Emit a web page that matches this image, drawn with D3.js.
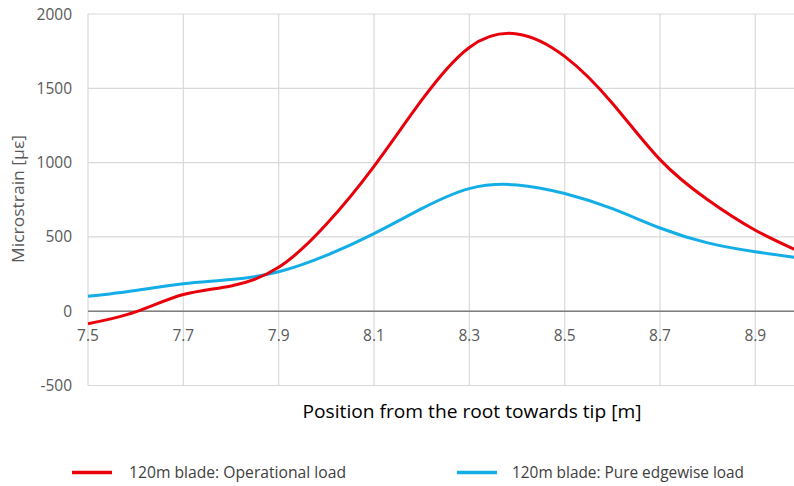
<!DOCTYPE html>
<html>
<head>
<meta charset="utf-8">
<script src="https://cdn.jsdelivr.net/npm/d3@7"></script>
<style>
  body { margin: 0; background: #fff; }
  text { font-family: "Open Sans", "Liberation Sans", sans-serif; }
</style>
</head>
<body>
<svg></svg>
<script>
// data
var positions = [7.5, 7.6, 7.7, 7.8, 7.9, 8.0, 8.1, 8.2, 8.3, 8.4, 8.5, 8.6, 8.7, 8.8, 8.9, 9.0];
var operational = [-85, -5, 112, 170, 295, 585, 975, 1420, 1775, 1866, 1715, 1400, 1020, 750, 545, 390];
var edgewise = [100, 140, 185, 213, 265, 375, 522, 690, 825, 850, 792, 690, 560, 460, 400, 355];
var xTicks = [7.5, 7.7, 7.9, 8.1, 8.3, 8.5, 8.7, 8.9];
var yTicks = [-500, 0, 500, 1000, 1500, 2000];
var seriesNames = ["120m blade: Operational load", "120m blade: Pure edgewise load"];

var width = 794, height = 486;

var svg = d3.select("svg")
    .attr("width", width)
    .attr("height", height);

var x = d3.scaleLinear().domain([7.5, 9.0]).range([88, 803]);
var y = d3.scaleLinear().domain([-500, 2000]).range([385.5, 14]);

// gridlines
svg.append("g").selectAll("line")
    .data(yTicks)
    .enter().append("line")
    .attr("x1", x(7.5)).attr("x2", x(9.0))
    .attr("y1", function(d) { return y(d); })
    .attr("y2", function(d) { return y(d); })
    .attr("stroke", "#d9d9d9")
    .attr("stroke-width", 1.2);

svg.append("g").selectAll("line")
    .data(xTicks)
    .enter().append("line")
    .attr("x1", function(d) { return x(d); })
    .attr("x2", function(d) { return x(d); })
    .attr("y1", y(2000)).attr("y2", y(-500))
    .attr("stroke", "#d9d9d9")
    .attr("stroke-width", 1.2);

// zero axis line
svg.append("line")
    .attr("x1", x(7.5)).attr("x2", x(9.0))
    .attr("y1", y(0)).attr("y2", y(0))
    .attr("stroke", "#808080")
    .attr("stroke-width", 1.4);

// y tick labels
svg.append("g").selectAll("text")
    .data(yTicks)
    .enter().append("text")
    .attr("x", 72)
    .attr("y", function(d) { return y(d); })
    .attr("dy", "0.36em")
    .attr("text-anchor", "end")
    .attr("font-size", 15.5)
    .attr("fill", "#595959")
    .text(function(d) { return d; });

// x tick labels (below zero line)
svg.append("g").selectAll("text")
    .data(xTicks)
    .enter().append("text")
    .attr("x", function(d) { return x(d); })
    .attr("y", y(0) + 24)
    .attr("dy", "0.36em")
    .attr("text-anchor", "middle")
    .attr("font-size", 15.5)
    .attr("fill", "#595959")
    .text(function(d) { return d3.format(".1f")(d); });

// axis titles
svg.append("text")
    .attr("x", 472)
    .attr("y", 418)
    .attr("text-anchor", "middle")
    .attr("font-size", 18)
    .attr("fill", "#000")
    .attr("textLength", 339)
    .attr("lengthAdjust", "spacingAndGlyphs")
    .text("Position from the root towards tip [m]");

svg.append("text")
    .attr("transform", "translate(24,199) rotate(-90)")
    .attr("text-anchor", "middle")
    .attr("font-size", 16.5)
    .attr("fill", "#595959")
    .attr("textLength", 128)
    .attr("lengthAdjust", "spacingAndGlyphs")
    .text("Microstrain [\u03bc\u03b5]");

// lines
var line = d3.line()
    .x(function(d) { return x(d[0]); })
    .y(function(d) { return y(d[1]); })
    .curve(d3.curveNatural);

var colors = ["#e8000b", "#13aee6"];
var series = [operational, edgewise];

// blue drawn first, red on top
[1, 0].forEach(function(i) {
    svg.append("path")
        .datum(positions.map(function(p, j) { return [p, series[i][j]]; }))
        .attr("fill", "none")
        .attr("stroke", colors[i])
        .attr("stroke-width", 3)
        .attr("d", line);
});

// legend
var legend = [
    { x1: 72, x2: 112, tx: 129, w: 217 },
    { x1: 457, x2: 497, tx: 512, w: 232 }
];
legend.forEach(function(l, i) {
    svg.append("line")
        .attr("x1", l.x1).attr("x2", l.x2)
        .attr("y1", 472.5).attr("y2", 472.5)
        .attr("stroke", colors[i])
        .attr("stroke-width", 3.5);
    svg.append("text")
        .attr("x", l.tx)
        .attr("y", 472.5)
        .attr("dy", "0.36em")
        .attr("font-size", 16.5)
        .attr("fill", "#404040")
        .attr("textLength", l.w)
        .attr("lengthAdjust", "spacingAndGlyphs")
        .text(seriesNames[i]);
});
</script>
</body>
</html>
